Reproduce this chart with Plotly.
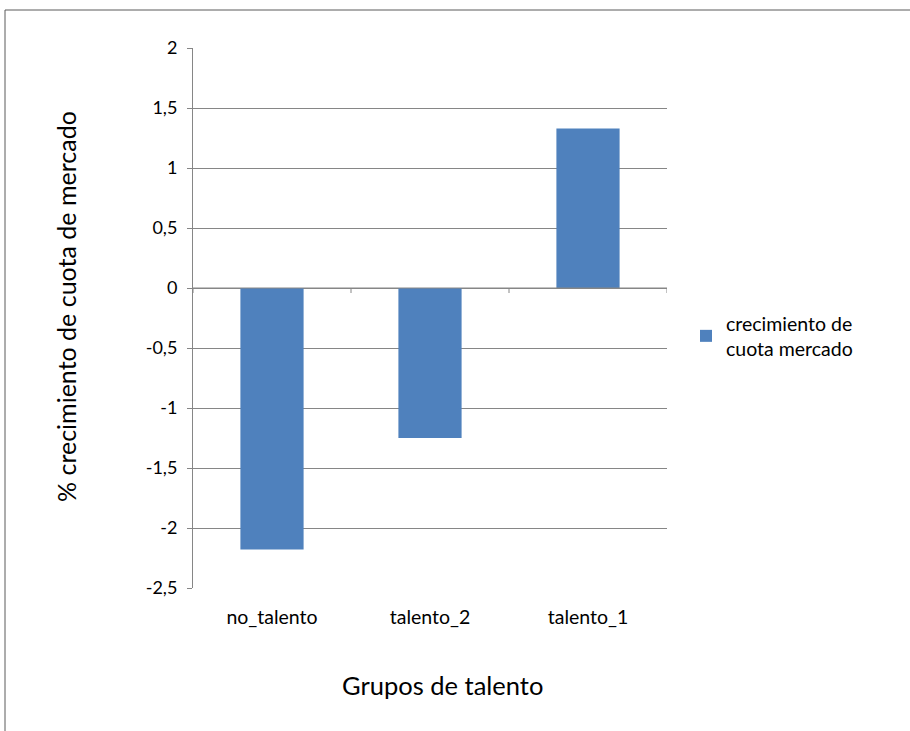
import plotly.graph_objects as go

categories = ["no_talento", "talento_2", "talento_1"]
values = [-2.18, -1.25, 1.33]
series_name = "crecimiento de<br>cuota mercado"
y_tickvals = [2, 1.5, 1, 0.5, 0, -0.5, -1, -1.5, -2, -2.5]
y_ticktext = ["2", "1,5", "1", "0,5", "0", "-0,5", "-1", "-1,5", "-2", "-2,5"]
x_title = "Grupos de talento"
y_title = "% crecimiento de cuota de mercado"

FONT = "Lato"
GRID = "#868686"
BAR = "#4f81bd"

W, H = 910, 731
L, R, T, B = 193, 243, 48, 143
pw, ph = W - L - R, H - T - B

def px_x(x):
    return (x - L) / pw

def px_y(y):
    return 1 - (y - T) / ph

fig = go.Figure()
fig.add_trace(go.Bar(
    x=categories, y=values, name=series_name,
    marker=dict(color=BAR, line=dict(width=0)),
    width=0.4, showlegend=True,
))

shapes = [
    dict(type="rect", xref="paper", yref="paper",
         x0=px_x(5), x1=px_x(930), y0=px_y(10), y1=px_y(760),
         line=dict(color="#5a5a5a", width=1), fillcolor="rgba(0,0,0,0)", layer="below"),
]
# x-axis line at zero with boundary tick marks
shapes.append(dict(type="line", xref="paper", yref="y", x0=0, x1=1, y0=0, y1=0,
                   line=dict(color=GRID, width=1)))
for i in range(len(categories) + 1):
    shapes.append(dict(type="line", xref="x", yref="y", ysizemode="pixel", yanchor=0,
                       x0=i - 0.5, x1=i - 0.5, y0=0, y1=-5,
                       line=dict(color=GRID, width=1)))

annotations = [
    dict(text=x_title, xref="paper", yref="paper", x=px_x(442), y=px_y(685),
         showarrow=False, font=dict(family=FONT, size=25.5, color="#000000"),
         xanchor="center", yanchor="middle"),
    dict(text=y_title, xref="paper", yref="paper", x=px_x(66), y=px_y(307),
         showarrow=False, textangle=-90, font=dict(family=FONT, size=25, color="#000000"),
         xanchor="center", yanchor="middle"),
]

fig.update_layout(
    width=W, height=H,
    margin=dict(l=L, r=R, t=T, b=B),
    paper_bgcolor="white", plot_bgcolor="white",
    separators=",.",
    font=dict(family=FONT, color="#000000"),
    shapes=shapes,
    annotations=annotations,
    bargap=0.6,
    legend=dict(x=px_x(686), y=px_y(304), xanchor="left", yanchor="top",
                font=dict(family=FONT, size=19.5, color="#000000"),
                itemsizing="constant", bgcolor="rgba(0,0,0,0)",
                tracegroupgap=0),
    xaxis=dict(
        type="category", range=[-0.5, 2.5],
        showline=False, showgrid=False, zeroline=False, ticks="",
        tickfont=dict(family=FONT, size=19.5, color="#000000"),
        ticklabelstandoff=15,
    ),
    yaxis=dict(
        range=[-2.5, 2], tickvals=y_tickvals, ticktext=y_ticktext,
        showgrid=True, gridcolor=GRID, gridwidth=1,
        zeroline=False,
        showline=True, linecolor=GRID, linewidth=1,
        ticks="outside", ticklen=5, tickcolor=GRID,
        tickfont=dict(family=FONT, size=18, color="#000000"),
        ticklabelstandoff=6,
    ),
)

fig.write_html("out.html")
